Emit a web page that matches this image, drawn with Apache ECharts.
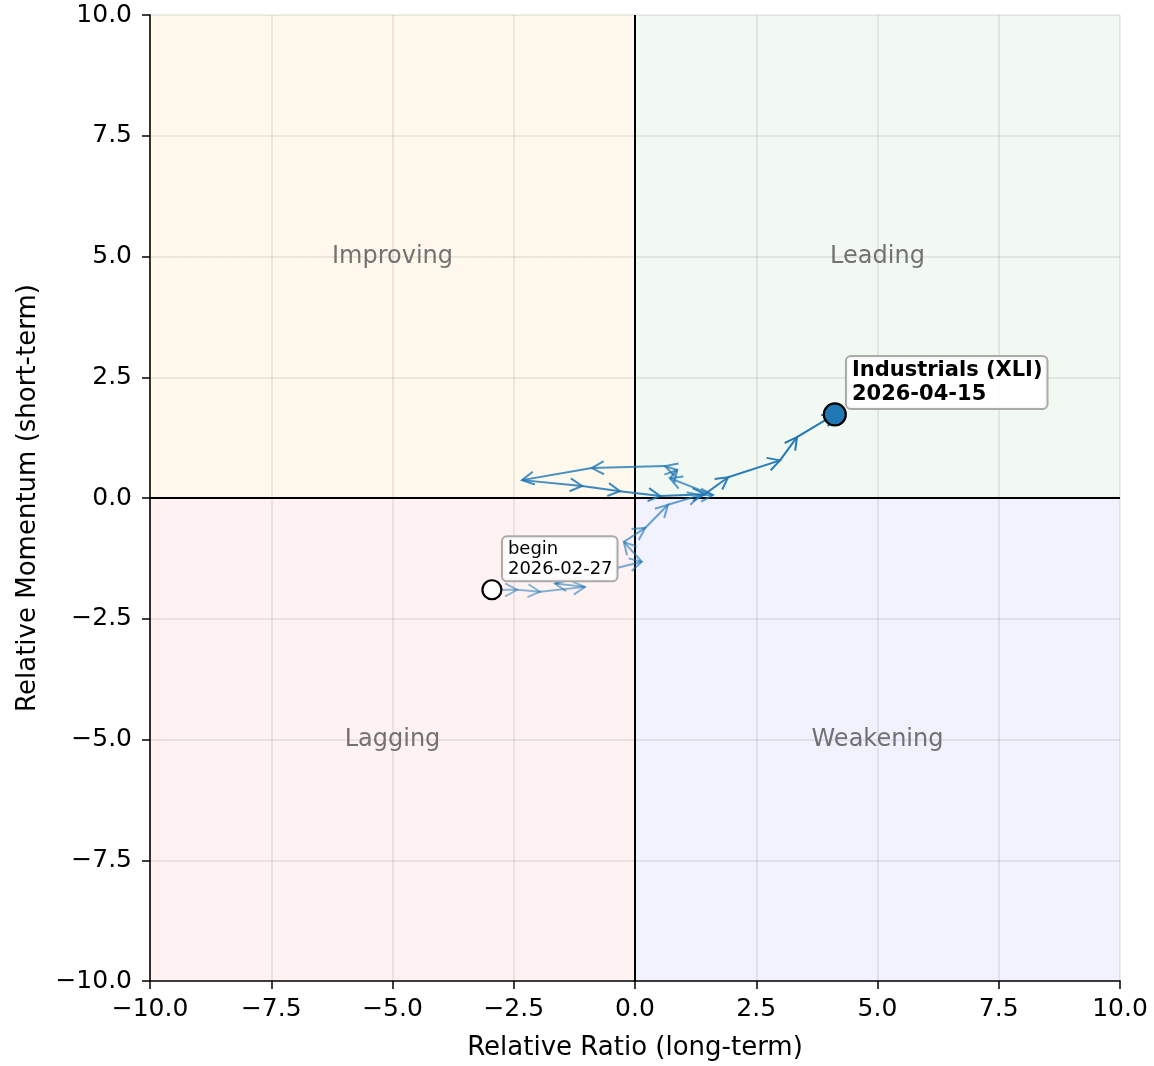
<!DOCTYPE html>
<html>
<head>
<meta charset="utf-8">
<script src="https://cdn.jsdelivr.net/npm/echarts@6/dist/echarts.min.js"></script>
<style>
html,body{margin:0;padding:0;background:#fff;}
#chart{width:1154px;height:1066px;}
</style>
</head>
<body>
<div id="chart"></div>
<script>
// Data
const ratio    = [-2.95, -2.43, -1.96, -1.03, -1.65, 0.14, -0.23, 0.21, 0.68, 1.34, 1.61, 0.72, 0.87, 0.62, -0.89, -2.33, -1.09, -0.31, 0.52, 1.44, 1.92, 2.99, 3.34, 4.12];
const momentum = [-1.90, -1.90, -1.94, -1.84, -1.77, -1.32, -0.91, -0.62, -0.14, 0.06, 0.06, 0.41, 0.58, 0.66, 0.62, 0.37, 0.25, 0.14, 0.04, 0.08, 0.43, 0.78, 1.26, 1.73];
const startDate = '2026-02-27';
const endDate = '2026-04-15';
const tickerName = 'Industrials (XLI)';
const quadrantNames = ['Improving', 'Leading', 'Lagging', 'Weakening'];

const FONT = 'DejaVu Sans';
const BLUE = '#1f77b4';

const segs = [];
const n = ratio.length;
for (let i = 0; i < n - 1; i++) {
  const a = 0.5 + 0.5 * (i / (n - 2));
  segs.push([ratio[i], momentum[i], ratio[i + 1], momentum[i + 1], a]);
}

const fmt = v => (v < 0 ? '\u2212' : '') + Math.abs(v).toFixed(1);

const chart = echarts.init(document.getElementById('chart'), null, {renderer: 'canvas'});

const axisCommon = {
  type: 'value', min: -10, max: 10, interval: 2.5,
  axisLine: {show: true, onZero: false, lineStyle: {color: '#000', width: 1.6}},
  axisTick: {show: true, length: 8, lineStyle: {color: '#000', width: 1.5}},
  axisLabel: {formatter: fmt, color: '#000', fontFamily: FONT, fontSize: 25, margin: 16},
  splitLine: {show: true, lineStyle: {color: 'rgba(0,0,0,0.1)', width: 1.5}},
  nameLocation: 'middle',
  nameTextStyle: {color: '#000', fontFamily: FONT, fontSize: 26}
};

chart.setOption({
  animation: false,
  backgroundColor: '#fff',
  grid: {left: 150, right: 34, top: 15, bottom: 81, containLabel: false},
  xAxis: Object.assign({}, axisCommon, {name: 'Relative Ratio (long-term)', nameGap: 54}),
  yAxis: Object.assign({}, axisCommon, {name: 'Relative Momentum (short-term)', nameGap: 109,
    axisLabel: Object.assign({}, axisCommon.axisLabel, {margin: 18})}),
  series: [
    {
      type: 'scatter', data: [], z: 1, silent: true,
      markArea: {
        silent: true,
        label: {show: true, position: 'inside', color: 'rgba(90,90,90,0.85)', fontFamily: FONT, fontSize: 24},
        data: [
          [{name: quadrantNames[0], xAxis: -10, yAxis: 0, itemStyle: {color: 'rgba(255,165,0,0.07)'}}, {xAxis: 0, yAxis: 10}],
          [{name: quadrantNames[1], xAxis: 0, yAxis: 0, itemStyle: {color: 'rgba(0,128,0,0.05)'}}, {xAxis: 10, yAxis: 10}],
          [{name: quadrantNames[2], xAxis: -10, yAxis: -10, itemStyle: {color: 'rgba(255,0,0,0.05)'}}, {xAxis: 0, yAxis: 0}],
          [{name: quadrantNames[3], xAxis: 0, yAxis: -10, itemStyle: {color: 'rgba(0,0,255,0.05)'}}, {xAxis: 10, yAxis: 0}]
        ]
      },
      markLine: {
        silent: true, symbol: 'none', label: {show: false},
        lineStyle: {color: '#000', width: 2, type: 'solid'},
        data: [{xAxis: 0}, {yAxis: 0}]
      }
    },
    {
      type: 'custom', z: 5, silent: true,
      data: segs,
      encode: {x: [0, 2], y: [1, 3]},
      renderItem: function (params, api) {
        const p0 = api.coord([api.value(0), api.value(1)]);
        const p1 = api.coord([api.value(2), api.value(3)]);
        const a = api.value(4);
        const dx = p1[0] - p0[0], dy = p1[1] - p0[1];
        const len = Math.sqrt(dx * dx + dy * dy) || 1;
        const ux = dx / len, uy = dy / len;
        const hl = 12, hw = 6.5;
        const bx = p1[0] - ux * hl, by = p1[1] - uy * hl;
        const h1 = [bx - uy * hw, by + ux * hw];
        const h2 = [bx + uy * hw, by - ux * hw];
        const style = {stroke: BLUE, lineWidth: 2, opacity: a, fill: null};
        return {
          type: 'group',
          children: [
            {type: 'line', shape: {x1: p0[0], y1: p0[1], x2: p1[0], y2: p1[1]}, style: Object.assign({}, style)},
            {type: 'polyline', shape: {points: [h1, p1, h2]}, style: Object.assign({}, style)}
          ]
        };
      }
    },
    {
      type: 'scatter', z: 10, silent: true,
      data: [[ratio[0], momentum[0]]],
      symbolSize: 19,
      itemStyle: {color: '#fff', borderColor: '#000', borderWidth: 2.2, opacity: 1},
      label: {
        show: true, position: 'top', distance: -1, offset: [11, 0],
        formatter: 'begin\n' + startDate,
        fontFamily: FONT, fontSize: 18, color: '#000', lineHeight: 20, align: 'left',
        backgroundColor: 'rgba(255,255,255,0.92)', borderColor: '#aaa', borderWidth: 2, borderRadius: 4,
        padding: [2, 4, 1, 5]
      }
    },
    {
      type: 'scatter', z: 10, silent: true,
      data: [[ratio[n - 1], momentum[n - 1]]],
      symbolSize: 22,
      itemStyle: {color: BLUE, borderColor: '#000', borderWidth: 2.2, opacity: 1},
      label: {
        show: true, position: 'right', distance: 0, offset: [0, -32],
        formatter: tickerName + '\n' + endDate,
        fontFamily: FONT, fontSize: 21, fontWeight: 'bold', color: '#000', lineHeight: 24,
        backgroundColor: 'rgba(255,255,255,0.92)', borderColor: '#aaa', borderWidth: 2, borderRadius: 4,
        padding: [2, 4, 1, 5]
      }
    }
  ]
});
</script>
</body>
</html>
